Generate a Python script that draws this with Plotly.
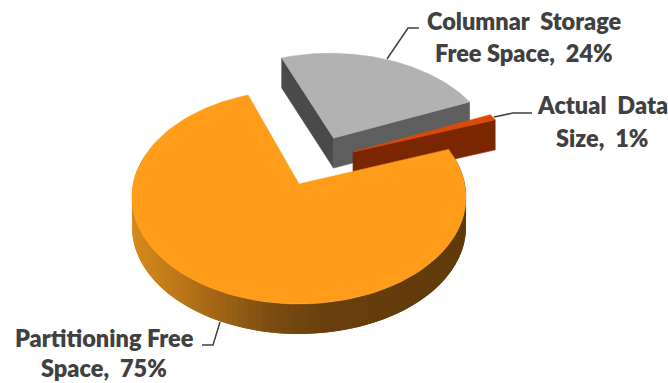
import math
import plotly.graph_objects as go

# Share of storage, in the clockwise order of the slices
categories = ["Columnar Storage Free Space", "Actual Data Size", "Partitioning Free Space"]
shares = [24, 1, 75]
label_lines = [["Columnar  Storage", "Free Space,  24%"], ["Actual  Data", "Size,  1%"], ["Partitioning Free", "Space,  75%"]]

top_colors = ["#B2B2B2", "#DB4A04", "#FF9C1A"]
left_cut_colors = ["#4A4A4A", None, None]
right_cut_colors = ["#5E5E5E", "#7A2600", None]

# Side-wall shading of the large slice: x position, then RGB
wall_stops = [(132, (214, 138, 28)), (170, (192, 122, 24)), (220, (158, 98, 22)),
              (270, (122, 76, 16)), (320, (104, 63, 12)), (466, (96, 58, 10))]

FIRST_ANGLE = 110.0     # degrees, where the first slice starts
CX, CY = 299.0, 184.0   # projected disc centre, in pixels
SCALE_X, SCALE_Y = 165.8, 105.4
PERSPECTIVE = 0.1215
DEPTH = 30.0
explode = [(0.22, 0.46), (0.338, 0.315), (0.0, 0.0)]


def project(x, y):
    w = 1 + PERSPECTIVE * y
    return CX + SCALE_X * x / w, CY - SCALE_Y * y / w


def arc(offset, a0, a1, steps=80):
    pts = []
    for i in range(steps + 1):
        t = math.radians(a0 + (a1 - a0) * i / steps)
        pts.append((offset[0] + math.cos(t), offset[1] + math.sin(t)))
    return pts


def closed_trace(xs, ys, color, outline=0.6):
    return go.Scatter(x=xs + xs[:1], y=ys + ys[:1], mode="lines", fill="toself", fillcolor=color,
                      line=dict(color=color, width=outline), hoverinfo="skip", showlegend=False)


def polygon(points, color):
    xy = [project(px, py) for px, py in points]
    return closed_trace([p[0] for p in xy], [p[1] for p in xy], color)


def wall(points, color, outline=0.6):
    xy = [project(px, py) for px, py in points]
    xs = [p[0] for p in xy] + [p[0] for p in reversed(xy)]
    ys = [p[1] for p in xy] + [p[1] + DEPTH for p in reversed(xy)]
    return closed_trace(xs, ys, color, outline)


def wall_color(x):
    for (x0, c0), (x1, c1) in zip(wall_stops, wall_stops[1:]):
        if x <= x1:
            t = max(0.0, (x - x0) / (x1 - x0))
            rgb = [round(u + (v - u) * t) for u, v in zip(c0, c1)]
            return "rgb({},{},{})".format(*rgb)
    return "rgb({},{},{})".format(*wall_stops[-1][1])


# Slice angles follow from the shares, running clockwise
spans = []
angle = FIRST_ANGLE
for share in shares:
    sweep = share * 3.6
    spans.append((angle - sweep, angle))
    angle -= sweep

fig = go.Figure()
for i in range(len(shares)):
    lo, hi = spans[i]
    off = explode[i]
    if left_cut_colors[i]:
        fig.add_trace(wall([arc(off, hi, hi, 1)[0], off], left_cut_colors[i]))
    if right_cut_colors[i]:
        fig.add_trace(wall([off, arc(off, lo, lo, 1)[0]], right_cut_colors[i]))
    if i == 2:
        # Curved outer wall: overlapping strips painted left to right, so no seams show
        pts = arc(off, 165.0, 380.0, 110)
        for j in range(len(pts) - 1):
            chunk = pts[j:j + 3]
            mid = project(*pts[j])[0]
            fig.add_trace(wall(chunk, wall_color(mid), outline=0))
    fig.add_trace(polygon([off] + arc(off, lo, hi, 120), top_colors[i]))

# Leader lines from each slice to its label
leaders = [([387, 408, 419], [59, 28, 28]), ([494, 513, 532], [117, 113, 113]), ([220, 213, 202], [322, 345, 345])]
for lx, ly in leaders:
    fig.add_trace(go.Scatter(x=lx, y=ly, mode="lines", line=dict(color="#404040", width=1.5),
                             hoverinfo="skip", showlegend=False))

label_centres = [(524, 21, 53), (602, 105, 138), (104, 338, 368)]
for lines, (cx, y1, y2) in zip(label_lines, label_centres):
    for text, y in zip(lines, (y1, y2)):
        fig.add_annotation(x=cx, y=y, text=text.replace("  ", "\u00a0 "), showarrow=False,
                           xanchor="center", yanchor="middle", borderpad=0,
                           font=dict(family="Lato", size=23.5, color="#404040", weight=800))

fig.update_layout(width=668, height=383, margin=dict(l=0, r=0, t=0, b=0),
                  paper_bgcolor="white", plot_bgcolor="white", showlegend=False,
                  xaxis=dict(range=[0, 668], visible=False, fixedrange=True),
                  yaxis=dict(range=[383, 0], visible=False, fixedrange=True))
fig.write_html("out.html", config=dict(displayModeBar=False))
